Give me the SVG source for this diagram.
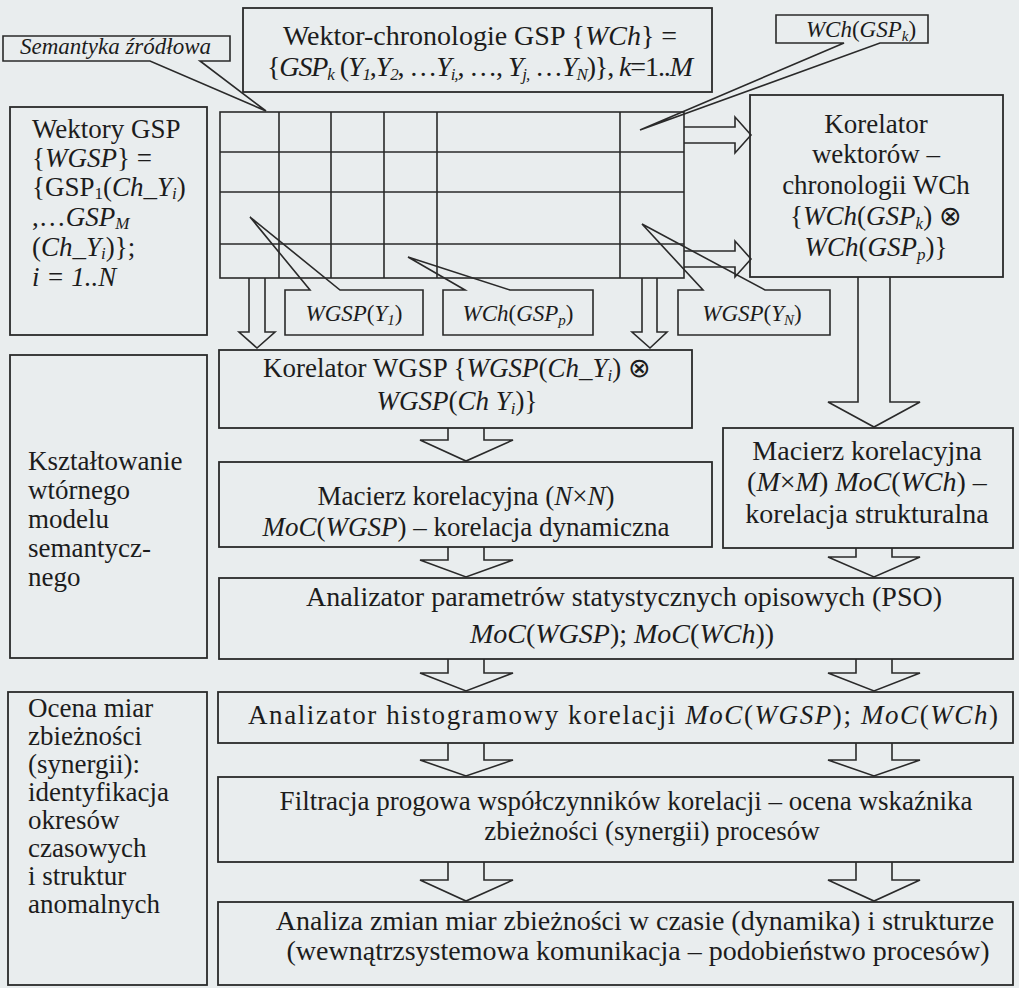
<svg xmlns="http://www.w3.org/2000/svg" width="1019" height="988" viewBox="0 0 1019 988">
<style>
.b{fill:none;stroke:#2a2a2a;stroke-width:1.8}
.c{fill:none;stroke:#2a2a2a;stroke-width:1.6;stroke-linejoin:miter}
.g{fill:none;stroke:#2a2a2a;stroke-width:1.6}
.t{font-family:"Liberation Serif","Times New Roman",serif;font-size:27px;fill:#1c1c1c}
.L{font-size:28px}
.m{text-anchor:middle}
.i{font-style:italic}
.sb{font-size:17px}
.sm{font-size:23px}
.ss{font-size:15px}
</style>
<rect x="0" y="0" width="1019" height="988" fill="#e9edee"/>

<g id="grid">
<rect class="g" x="220" y="112" width="464" height="166"/>
<path class="g" d="M279,112V278M331,112V278M384,112V278M437,112V278M620,112V278M220,152H684M220,192H684M220,244H684"/>
</g>

<g id="connectors">
<path class="c" d="M684,127H735V117L751,135L735,153V143H684"/>
<path class="c" d="M684,251H735V241L751,259L735,277V267H684"/>
<path class="c" d="M249,278V332H239L257,348L275,332H265V278"/>
<path class="c" d="M642,278V332H632L650,348L667,332H657V278"/>
<path class="c" d="M858,277V402H828L874,427L920,402H890V277"/>
<path class="c" d="M448,428V440H420L466,461L513,440H484V428"/>
<path class="c" d="M448,547V560H420L466,577L513,560H484V547"/>
<path class="c" d="M856,548V557H828L874,577L920,557H892V548"/>
<path class="c" d="M448,659V673H420L466,691L513,673H484V659"/>
<path class="c" d="M856,659V673H828L874,691L920,673H892V659"/>
<path class="c" d="M448,743V760H420L466,776L513,760H484V743"/>
<path class="c" d="M856,743V760H828L874,776L920,760H892V743"/>
<path class="c" d="M448,862V880H420L466,901L513,880H484V862"/>
<path class="c" d="M856,862V880H828L874,901L920,880H892V862"/>
</g>

<g id="semantyka">
<path class="c" d="M3,36H230V61H200L266,111L150,61H3Z"/>
<text class="t sm i" x="20" y="54">Semantyka źródłowa</text>
</g>

<g id="wch-gspk">
<path class="c" d="M776,15H928V43H880L640,130L844,43H776Z"/>
<text class="t sm m" x="861" y="37"><tspan class="i">WCh</tspan>(<tspan class="i">GSP</tspan><tspan class="i ss" dy="4">k</tspan><tspan dy="-4">)</tspan></text>
</g>

<g id="wgsp-y1">
<path class="c" d="M285,290H310L250,217L340,290H423V335H285Z"/>
<text class="t sm m" x="354" y="321"><tspan class="i">WGSP</tspan>(<tspan class="i">Y</tspan><tspan class="i ss" dy="4">1</tspan><tspan dy="-4">)</tspan></text>
</g>

<g id="wch-gspp">
<path class="c" d="M443,290H465L408,257L510,290H593V335H443Z"/>
<text class="t sm m" x="518" y="321"><tspan class="i">WCh</tspan>(<tspan class="i">GSP</tspan><tspan class="i ss" dy="4">p</tspan><tspan dy="-4">)</tspan></text>
</g>

<g id="wgsp-yn">
<path class="c" d="M678,290H703L642,224L765,290H830V335H678Z"/>
<text class="t sm m" x="752" y="321"><tspan class="i">WGSP</tspan>(<tspan class="i">Y</tspan><tspan class="i ss" dy="4">N</tspan><tspan dy="-4">)</tspan></text>
</g>

<g id="wektor-chronologie">
<rect class="b" x="243" y="8" width="469" height="84"/>
<text class="t L m" x="480" y="45">Wektor-chronologie GSP {<tspan class="i">WCh</tspan>} =</text>
<text class="t L m" x="480" y="76" textLength="426" lengthAdjust="spacing">{<tspan class="i">GSP</tspan><tspan class="i sb" dy="4">k</tspan><tspan dy="-4"> (</tspan><tspan class="i">Y</tspan><tspan class="i sb" dy="4">1</tspan><tspan dy="-4">,</tspan><tspan class="i">Y</tspan><tspan class="i sb" dy="4">2</tspan><tspan dy="-4">, …</tspan><tspan class="i">Y</tspan><tspan class="i sb" dy="4">i,</tspan><tspan dy="-4">, …, </tspan><tspan class="i">Y</tspan><tspan class="i sb" dy="4">j,</tspan><tspan dy="-4"> …</tspan><tspan class="i">Y</tspan><tspan class="i sb" dy="4">N</tspan><tspan dy="-4">)}, </tspan><tspan class="i">k</tspan>=1..<tspan class="i">M</tspan></text>
</g>

<g id="wektory-gsp">
<rect class="b" x="10" y="107" width="197" height="228"/>
<text class="t" x="32" y="138">Wektory GSP</text>
<text class="t" x="32" y="167">{<tspan class="i">WGSP</tspan>} =</text>
<text class="t" x="32" y="196">{GSP<tspan class="sb" dy="3">1</tspan><tspan dy="-3">(</tspan><tspan class="i">Ch_Y</tspan><tspan class="i sb" dy="3">i</tspan><tspan dy="-3">)</tspan></text>
<text class="t" x="32" y="226">,…<tspan class="i">GSP</tspan><tspan class="i sb" dy="3">M</tspan></text>
<text class="t" x="32" y="256">(<tspan class="i">Ch_Y</tspan><tspan class="i sb" dy="3">i</tspan><tspan dy="-3">)};</tspan></text>
<text class="t i" x="32" y="286">i = 1..N</text>
</g>

<g id="korelator-wch">
<rect class="b" x="750" y="95" width="253" height="182"/>
<text class="t m" x="876" y="133">Korelator</text>
<text class="t m" x="876" y="163">wektorów –</text>
<text class="t m" x="876" y="194">chronologii WCh</text>
<text class="t m" x="876" y="225">{<tspan class="i">WCh</tspan>(<tspan class="i">GSP</tspan><tspan class="i sb" dy="4">k</tspan><tspan dy="-4">) ⊗</tspan></text>
<text class="t m" x="876" y="256"><tspan class="i">WCh</tspan>(<tspan class="i">GSP</tspan><tspan class="i sb" dy="4">p</tspan><tspan dy="-4">)}</tspan></text>
</g>

<g id="korelator-wgsp">
<rect class="b" x="219" y="350" width="473" height="78"/>
<text class="t m" x="457" y="377">Korelator WGSP {<tspan class="i">WGSP</tspan>(<tspan class="i">Ch_Y</tspan><tspan class="i sb" dy="4">i</tspan><tspan dy="-4">) ⊗</tspan></text>
<text class="t m" x="457" y="410"><tspan class="i">WGSP</tspan>(<tspan class="i">Ch  Y</tspan><tspan class="i sb" dy="4">i</tspan><tspan dy="-4">)}</tspan></text>
</g>

<g id="ksztaltowanie">
<rect class="b" x="10" y="355" width="197" height="303"/>
<text class="t" x="28" y="470">Kształtowanie</text>
<text class="t" x="28" y="499">wtórnego</text>
<text class="t" x="28" y="528">modelu</text>
<text class="t" x="28" y="557">semantycz-</text>
<text class="t" x="28" y="586">nego</text>
</g>

<g id="macierz-nn">
<rect class="b" x="219" y="462" width="493" height="85"/>
<text class="t m" x="466" y="505">Macierz korelacyjna (<tspan class="i">N</tspan>×<tspan class="i">N</tspan>)</text>
<text class="t m" x="466" y="536"><tspan class="i">MoC</tspan>(<tspan class="i">WGSP</tspan>) – korelacja dynamiczna</text>
</g>

<g id="macierz-mm">
<rect class="b" x="723" y="428" width="290" height="120"/>
<text class="t L m" x="867" y="460">Macierz korelacyjna</text>
<text class="t L m" x="867" y="491">(<tspan class="i">M</tspan>×<tspan class="i">M</tspan>) <tspan class="i">MoC</tspan>(<tspan class="i">WCh</tspan>) –</text>
<text class="t L m" x="867" y="523">korelacja strukturalna</text>
</g>

<g id="analizator-pso">
<rect class="b" x="219" y="578" width="794" height="81"/>
<text class="t L m" x="624" y="606">Analizator parametrów statystycznych opisowych (PSO)</text>
<text class="t L m" x="622" y="643"><tspan class="i">MoC</tspan>(<tspan class="i">WGSP</tspan>); <tspan class="i">MoC</tspan>(<tspan class="i">WCh</tspan>))</text>
</g>

<g id="ocena">
<rect class="b" x="8" y="692" width="199" height="293"/>
<text class="t" x="28" y="717">Ocena miar</text>
<text class="t" x="28" y="745">zbieżności</text>
<text class="t" x="28" y="773">(synergii):</text>
<text class="t" x="28" y="801">identyfikacja</text>
<text class="t" x="28" y="829">okresów</text>
<text class="t" x="28" y="857">czasowych</text>
<text class="t" x="28" y="885">i struktur</text>
<text class="t" x="28" y="913">anomalnych</text>
</g>

<g id="histogram">
<rect class="b" x="218" y="692" width="795" height="51"/>
<text class="t m" x="623" y="724" font-size="29" textLength="750" lengthAdjust="spacing">Analizator histogramowy korelacji <tspan class="i">MoC</tspan>(<tspan class="i">WGSP</tspan>); <tspan class="i">MoC</tspan>(<tspan class="i">WCh</tspan>)</text>
</g>

<g id="filtracja">
<rect class="b" x="218" y="777" width="795" height="85"/>
<text class="t m" x="626" y="810">Filtracja progowa współczynników korelacji – ocena wskaźnika</text>
<text class="t m" x="652" y="840">zbieżności (synergii) procesów</text>
</g>

<g id="analiza">
<rect class="b" x="218" y="902" width="795" height="83"/>
<text class="t L m" x="635" y="930">Analiza zmian miar zbieżności w czasie (dynamika) i strukturze</text>
<text class="t L m" x="638" y="960">(wewnątrzsystemowa komunikacja – podobieństwo procesów)</text>
</g>
</svg>
